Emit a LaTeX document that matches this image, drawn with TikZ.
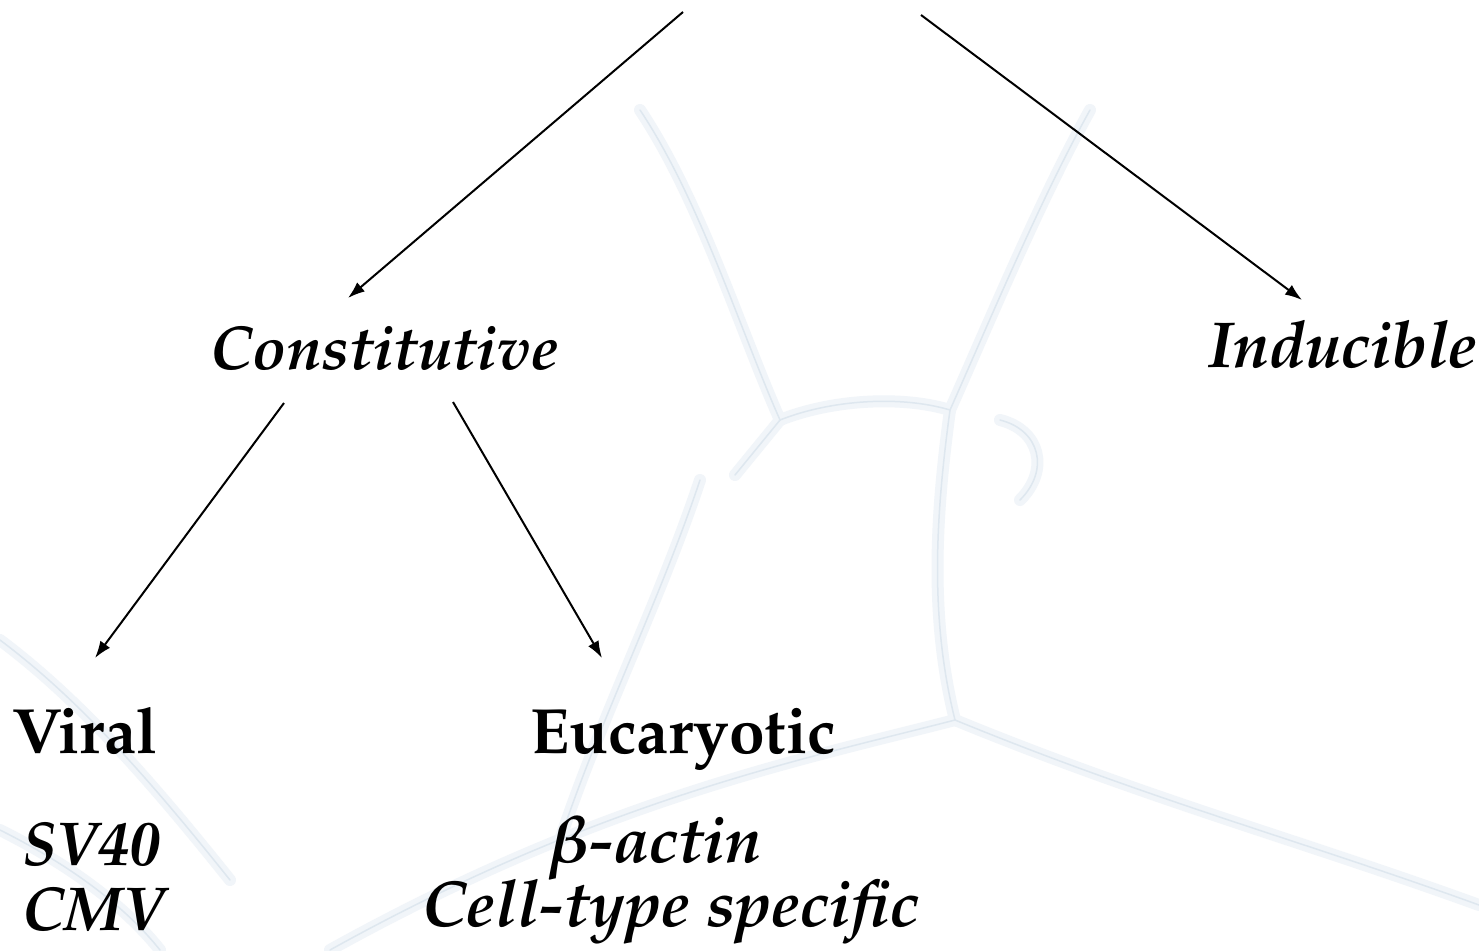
\documentclass[tikz,border=0pt]{standalone}
\usepackage[T1]{fontenc}
\usepackage{mathpazo}
\usetikzlibrary{arrows.meta,calc}
\definecolor{vein}{RGB}{222,231,239}
\definecolor{veinlt}{RGB}{241,245,249}
\tikzset{
  lbl/.style={inner sep=0pt, font=\fontsize{62}{72}\selectfont\bfseries\itshape},
  lblb/.style={inner sep=0pt, font=\fontsize{65}{75}\selectfont\bfseries\itshape},
  hdr/.style={inner sep=0pt, font=\fontsize{64}{75}\selectfont\bfseries},
  arr/.style={line width=2pt, -{Latex[length=17pt,width=12pt]}},
  veinw/.style={veinlt, line width=12pt, line cap=round, line join=round},
  veinn/.style={vein, line width=1.5pt, line cap=round, line join=round},
}
\begin{document}
\begin{tikzpicture}[x=1pt,y=-1pt]
\fill[white] (0,0) rectangle (1479,950);
\useasboundingbox (0,0) rectangle (1479,950);
% faint background texture
\foreach \s in {veinw,veinn}{
  \draw[\s] (640,110) .. controls (700,200) and (740,330) .. (780,420);
  \draw[\s] (780,420) .. controls (830,400) and (900,395) .. (950,410);
  \draw[\s] (1090,110) .. controls (1040,200) and (990,320) .. (950,410);
  \draw[\s] (780,420) -- (735,475);
  \draw[\s] (950,410) .. controls (935,520) and (930,620) .. (955,720);
  \draw[\s] (955,720) .. controls (1150,800) and (1300,840) .. (1479,905);
  \draw[\s] (955,720) .. controls (800,760) and (600,800) .. (330,950);
  \draw[\s] (0,640) .. controls (80,700) and (150,780) .. (230,880);
  \draw[\s] (560,840) .. controls (600,720) and (660,600) .. (700,480);
  \draw[\s] (0,830) .. controls (60,860) and (120,900) .. (160,950);
  \draw[\s] (1000,420) .. controls (1040,430) and (1050,470) .. (1020,500);
}
% nodes
\node[lbl, anchor=base west] (cons) at (210,369) {Constitutive};
\node[lblb, anchor=base west] (ind) at (1208,367) {Inducible};
\node[hdr, anchor=base west] (viral) at (12,753) {Viral};
\node[hdr, anchor=base west] (euc) at (530,753) {Eucaryotic};
\node[lbl, anchor=base west] (sv) at (22,865) {SV40};
\node[lbl, anchor=base west] (cmv) at (22,930) {CMV};
\node[lblb, anchor=base] (act) at (654,862) {{\boldmath$\beta$}-actin};
\node[lblb, anchor=base] (cts) at (671,926) {Cell-type specific};
\coordinate (top1) at (683,12);
\coordinate (top2) at (921,15);
% connectors
\draw[arr] (top1) -- ($(cons.base west)+(138,-71)$);
\draw[arr] (top2) -- ($(ind.base west)+(94,-67)$);
\draw[arr] ($(cons.base west)+(74,34)$) -- ($(viral.base west)+(83,-95)$);
\draw[arr] ($(cons.base west)+(243,33)$) -- ($(euc.base west)+(72,-95)$);
\end{tikzpicture}
\end{document}
